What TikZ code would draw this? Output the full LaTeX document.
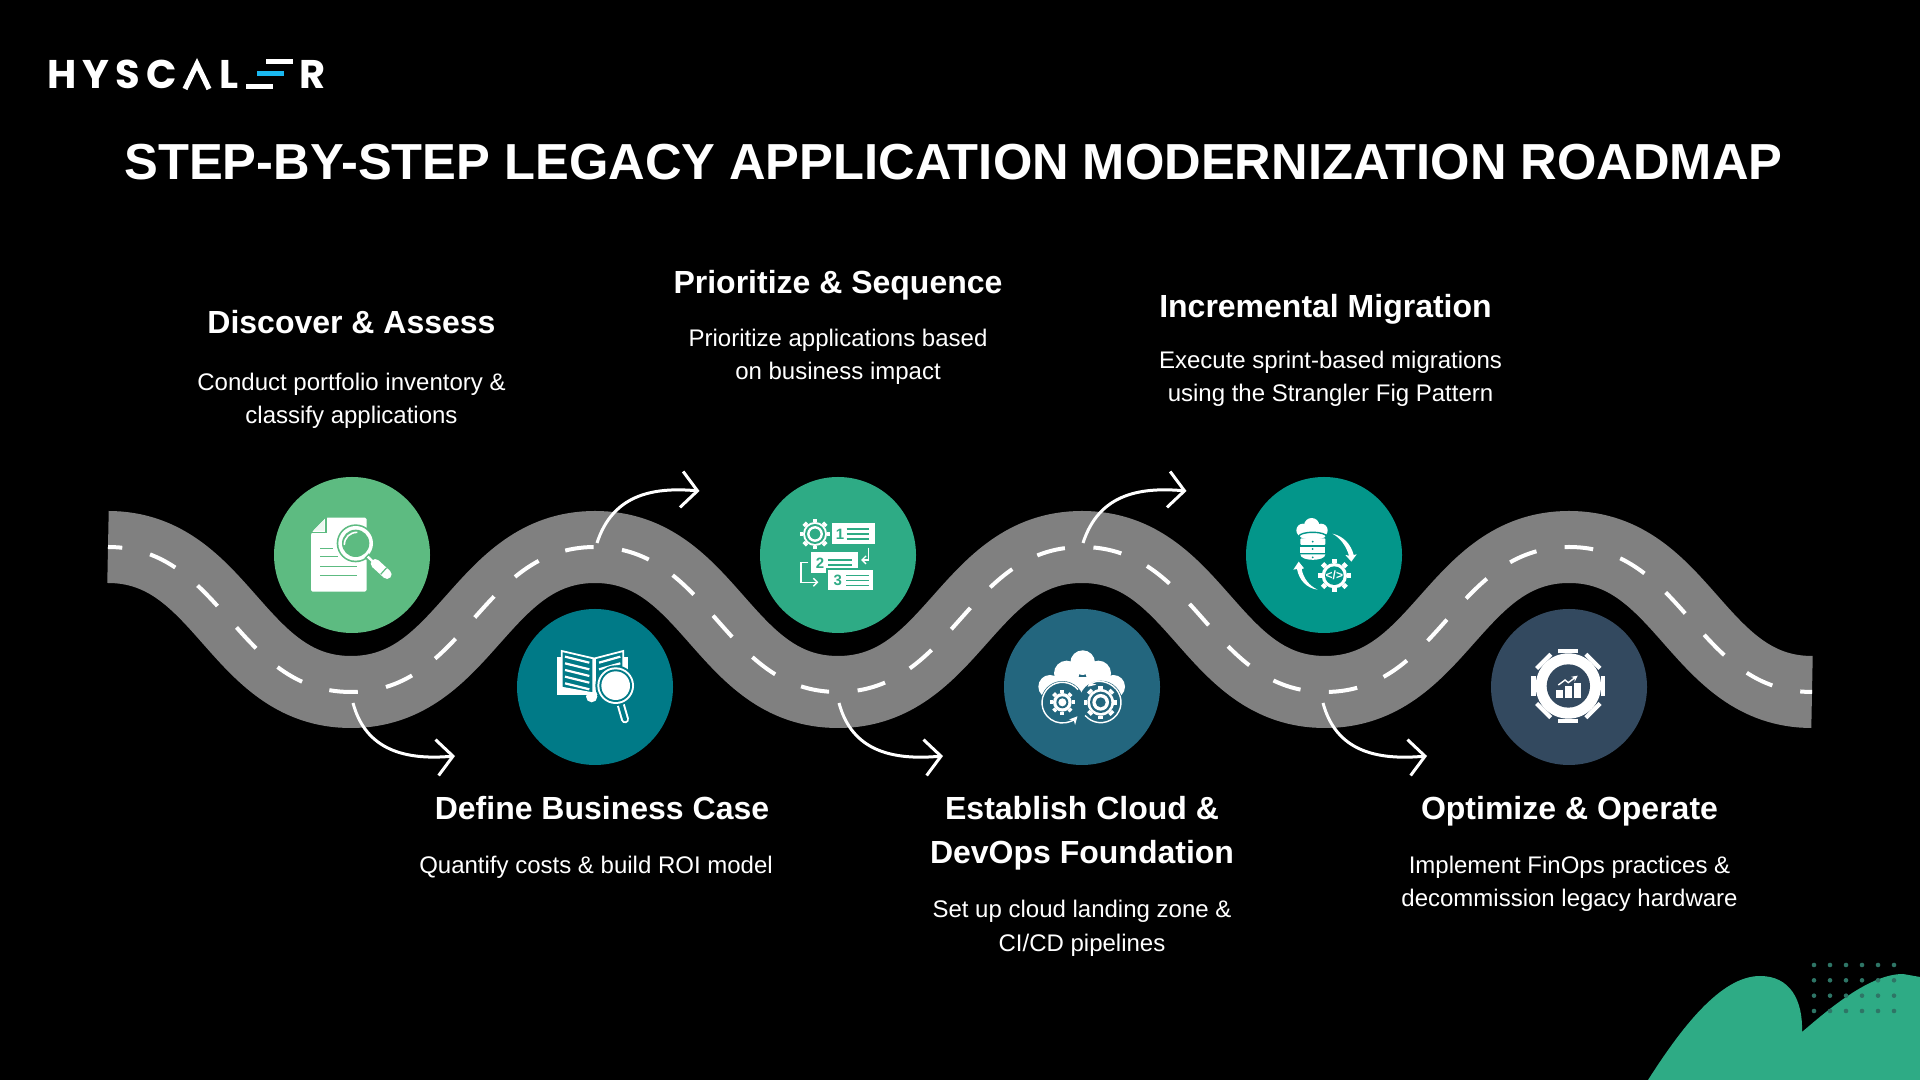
\documentclass[tikz,border=0pt]{standalone}
\usepackage{fontspec}
\setmainfont{Liberation Sans}
\newfontfamily\logofont[LetterSpace=15]{Poppins}
\usetikzlibrary{arrows.meta,positioning}
\definecolor{discgreen}{HTML}{5DBB81}
\definecolor{discteal}{HTML}{007A87}
\definecolor{discmint}{HTML}{2EAB85}
\definecolor{discblue}{HTML}{23667E}
\definecolor{discsea}{HTML}{03968A}
\definecolor{discnavy}{HTML}{33495F}
\definecolor{roadgrey}{HTML}{808080}
\definecolor{dotgreen}{HTML}{2E7566}
\definecolor{logoblue}{HTML}{1AB8F0}
\tikzset{heading/.style={font=\bfseries\fontsize{16}{22}\selectfont,text=white,align=center,inner sep=0pt},
		detail/.style={font=\fontsize{12}{16.5}\selectfont,text=white,align=center,inner sep=0pt},
		disc/.style={circle,minimum size=78pt,inner sep=0pt,fill=#1},
		road/.style={draw=roadgrey,line width=36pt},
		lane/.style={draw=white,line width=2pt,dash pattern=on 14.3pt off 14.3pt,dash phase=7.15pt},
		turn/.style={-{Straight Barb[length=8pt,width=18pt,line width=1.5pt]},draw=white,line width=1.5pt},
		iconframe/.style 2 args={shift={(#1,#2)},x=0.16667pt,y=-0.16667pt,color=white},
		digit/.style={font=\bfseries\fontsize{7.5}{8}\selectfont,inner sep=0pt}}
% gear: x, y, outer radius, body radius, teeth, tooth width
\newcommand{\cogwheel}[6]{%
	\fill (#1,#2) circle[radius=#4];
	\foreach \k in {1,...,#5} \draw[line width=#6] ({#1+#4*cos(360*\k/#5)},{#2+#4*sin(360*\k/#5)}) -- ({#1+#3*cos(360*\k/#5)},{#2+#3*sin(360*\k/#5)});
}
\begin{document}
\begin{tikzpicture}[x=0.5pt,y=0.5pt,node distance=17pt]
	\useasboundingbox (0,0) rectangle (1920,1080);
	\fill[black] (0,0) rectangle (1920,1080);

	% logo
	\node[anchor=base west,inner sep=0pt,text=white,font=\logofont\bfseries\fontsize{20}{20}\selectfont] (logo-start) at (47,991) {HYSC};
	\draw[white,line width=2.6pt,line join=miter] (185,991) -- (197,1016) -- (209,991);
	\node[anchor=base west,inner sep=0pt,text=white,font=\logofont\bfseries\fontsize{20}{20}\selectfont] (logo-mid) at (219,991) {L};
	\fill[white] (246,990.5) rectangle (273,995.5);
	\fill[logoblue] (257,1003.5) rectangle (284,1008.5);
	\fill[white] (266,1015.5) rectangle (293,1020.5);
	\node[anchor=base west,inner sep=0pt,text=white,font=\logofont\bfseries\fontsize{20}{20}\selectfont] (logo-end) at (299,991) {R};

	\node[font=\bfseries\fontsize{25.32}{30}\selectfont,text=white,inner sep=0pt] (title) at (953.5,918) {STEP-BY-STEP LEGACY APPLICATION MODERNIZATION ROADMAP};

	% corner shape
	\fill[discmint] (1648,0) .. controls (1680,50) and (1720,104) .. (1760,104) .. controls (1790,104) and (1803,80) .. (1802,48) .. controls (1830,72) and (1870,106) .. (1903,106) -- (1920,103) -- (1920,0) -- cycle;
	\foreach \dotx in {1814,1830,1846,1862,1878,1894}
		\foreach \doty in {115,99.7,84.3,69}
			\fill[dotgreen] (\dotx,\doty) circle[radius=2.3];

	% road
	\draw[road,postaction={lane}] (108,533) .. controls +(115,0) and +(-115,0) .. (351,388) .. controls +(115,0) and +(-115,0) .. (595,533) .. controls +(115,0) and +(-115,0) .. (838,388) .. controls +(115,0) and +(-115,0) .. (1082,533) .. controls +(115,0) and +(-115,0) .. (1325,388) .. controls +(115,0) and +(-115,0) .. (1569,533) .. controls +(115,0) and +(-115,0) .. (1812,388);

	\node[disc=discgreen] (discover) at (352,525) {};
	\node[disc=discteal] (define) at (595,393) {};
	\node[disc=discmint] (prioritize) at (838,525) {};
	\node[disc=discblue] (establish) at (1082,393) {};
	\node[disc=discsea] (incremental) at (1324,525) {};
	\node[disc=discnavy] (optimize) at (1569,393) {};

	% turns
	\coordinate (turn-a) at (353,377);
	\coordinate (turn-a-end) at (455,324);
	\coordinate (turn-b) at (597,537);
	\coordinate (turn-b-end) at (699.5,589);
	\coordinate (turn-c) at (839,377);
	\coordinate (turn-c-end) at (943,324);
	\coordinate (turn-d) at (1083,537);
	\coordinate (turn-d-end) at (1186.5,589);
	\coordinate (turn-e) at (1323,377);
	\coordinate (turn-e-end) at (1427,324);
	\draw[turn] (turn-a) to[out=-75,in=185,looseness=1.1] (turn-a-end);
	\draw[turn] (turn-b) to[out=72,in=175,looseness=1.1] (turn-b-end);
	\draw[turn] (turn-c) to[out=-75,in=185,looseness=1.1] (turn-c-end);
	\draw[turn] (turn-d) to[out=72,in=175,looseness=1.1] (turn-d-end);
	\draw[turn] (turn-e) to[out=-75,in=185,looseness=1.1] (turn-e-end);

	% texts
	\node[heading] (discover-head) at (351.5,758) {Discover \& Assess};
	\node[detail] (discover-text) [below=19.4pt of discover-head] {Conduct portfolio inventory \&\\classify applications};
	\node[heading] (prioritize-head) at (838,794.3) {Prioritize \& Sequence};
	\node[detail] (prioritize-text) [below=13.9pt of prioritize-head] {Prioritize applications based\\on business impact};
	\node[heading] (incremental-head) at (1325.5,770.3) {Incremental Migration};
	\node[detail] (incremental-text) [below=12.7pt of incremental-head,xshift=2.5pt] {Execute sprint-based migrations\\using the Strangler Fig Pattern};
	\node[heading] (define-head) at (602,272) {Define Business Case};
	\node[detail] (define-text) [below=17.6pt of define-head,xshift=-3pt] {Quantify costs \& build ROI model};
	\node[heading] (establish-head) at (1082,246.3) {Establish Cloud \&\\DevOps Foundation};
	\node[detail] (establish-text) [below=14.6pt of establish-head] {Set up cloud landing zone \&\\CI/CD pipelines};
	\node[heading] (optimize-head) at (1569.5,268.3) {Optimize \& Operate};
	\node[detail] (optimize-text) [below=14.6pt of optimize-head] {Implement FinOps practices \&\\decommission legacy hardware};

	% document with lens
	\begin{scope}[iconframe={300}{575}]
		\fill[rounded corners=0.8pt] (33,85) -- (78,38) -- (200,38) -- (200,260) -- (33,260) -- cycle;
		\draw[discgreen,line width=0.6pt] (33,82) -- (78,82) -- (78,38);
		\fill[white!88!discgreen] (40,77) -- (73,44) -- (73,77) -- cycle;
		\foreach \linex/\liney in {100/130,113/155,170/184,170/212}
			\draw[discgreen,line width=0.7pt] (60,\liney) -- (\linex,\liney);
		\fill[discgreen] (167,115) circle[radius=57];
		\fill (167,115) circle[radius=52];
		\fill[discgreen] (167,115) circle[radius=41];
		\draw[line width=0.8pt] (133,120) .. controls (133,97) and (150,82) .. (172,82);
		\draw[discgreen,line width=3pt] (200,152) -- (215,166);
		\draw[line width=1.2pt] (203,155) -- (218,169);
		\draw[line width=4.6pt,line cap=round] (226,176) -- (261,208);
		\draw[discgreen,line width=0.6pt] (242,208) -- (260,188);
	\end{scope}

	% book with lens
	\begin{scope}[iconframe={545}{440}]
		\fill (37,50) rectangle (52,165);
		\fill (233,50) rectangle (250,165);
		\fill (37,143) rectangle (250,165);
		\fill (140,170) circle[radius=17];
		\draw[fill=discteal,line width=0.9pt] (50,33) -- (145,55) -- (145,160) -- (50,143) -- cycle;
		\draw[fill=discteal,line width=0.9pt] (150,55) -- (235,33) -- (235,140) -- (150,160) -- cycle;
		\foreach \rowy in {0,20,40,60,80} {
			\draw[line width=1.1pt] (60,50+\rowy) -- (133,68+\rowy);
			\draw[line width=1.1pt] (162,68+\rowy) -- (226,50+\rowy);
		}
		\draw[line width=4pt,line cap=round] (226,190) -- (240,238);
		\draw[discteal,line width=2pt,line cap=round] (226,190) -- (240,238);
		\fill[discteal] (212,137) circle[radius=61];
		\fill (212,137) circle[radius=55];
		\fill[discteal] (212,137) circle[radius=49];
		\fill (212,137) circle[radius=43];
	\end{scope}

	% numbered list with gear
	\begin{scope}[iconframe={790}{575}]
		\fill (125,55) rectangle (255,118);
		\foreach \rowy in {72,87,102} \draw[discmint,line width=0.7pt] (170,\rowy) -- (238,\rowy);
		\node[digit,text=discmint] (num-one) at (150,87) {1};
		\cogwheel{75}{87}{46}{36}{8}{2.4pt}
		\fill[discmint] (75,87) circle[radius=30];
		\draw[line width=1.2pt] (75,87) circle[radius=20];
		\fill (62,142) rectangle (205,205);
		\foreach \rowy in {165,180} \draw[discmint,line width=0.7pt] (115,\rowy) -- (185,\rowy);
		\node[digit,text=discmint] (num-two) at (90,175) {2};
		\draw[fill=white,draw=discmint,line width=1pt] (110,193) rectangle (253,259);
		\foreach \rowy in {212,227,242} \draw[discmint,line width=0.7pt] (168,\rowy) -- (236,\rowy);
		\node[digit,text=discmint] (num-three) at (143,226) {3};
		\draw[line width=0.7pt,-{Straight Barb[length=2pt,width=4pt]}] (235,128) -- (235,165) -- (213,165);
		\draw[line width=0.7pt,-{Straight Barb[length=2pt,width=4pt]}] (55,172) -- (33,172) -- (33,232) -- (85,232);
	\end{scope}

	% cloud with gears
	\begin{scope}[iconframe={1030}{440}]
		\fill (158,68) circle[radius=37];
		\fill (110,100) circle[radius=38];
		\fill (205,100) circle[radius=38];
		\fill (60,140) circle[radius=35];
		\fill (250,140) circle[radius=35];
		\fill (60,110) rectangle (250,175);
		\fill[discblue] (97,188) circle[radius=65];
		\fill[discblue] (212,187) circle[radius=65];
		\draw[line width=0.7pt,-{Stealth[length=4pt,width=4pt]}] ({97+61*cos(-40)},{188+61*sin(-40)}) arc[start angle=-40,end angle=-318,radius=61];
		\draw[line width=0.7pt,-{Stealth[length=4pt,width=4pt]}] ({212+61*cos(140)},{187+61*sin(140)}) arc[start angle=140,end angle=-130,radius=61];
		\cogwheel{97}{187}{37}{28}{8}{2pt}
		\fill[discblue] (97,187) circle[radius=18];
		\fill (97,187) circle[radius=12];
		\cogwheel{212}{187}{50}{40}{8}{2.6pt}
		\fill[discblue] (212,187) circle[radius=32];
		\fill (212,187) circle[radius=25];
		\fill[discblue] (212,187) circle[radius=15];
	\end{scope}

	% database with code gear
	\begin{scope}[iconframe={1275}{575}]
		\fill (110,62) circle[radius=23];
		\fill (84,76) circle[radius=20];
		\fill (138,76) circle[radius=20];
		\draw[fill=white,draw=discsea,line width=0.7pt] (113,94) ellipse[x radius=41,y radius=12];
		\fill[rounded corners=0.5pt] (76,100) rectangle (151,120);
		\fill (76,125) rectangle (151,143);
		\fill (76,148) -- (151,148) .. controls (151,170) and (76,170) .. (76,148);
		\fill[discsea] (113,132) circle[radius=3];
		\fill[discsea] (113,110) circle[radius=3];
		\fill[discsea] (113,157) circle[radius=3];
		\fill (172,86) .. controls (205,93) and (228,118) .. (236,150) -- (245,148) -- (229,170) -- (211,150) -- (222,152) .. controls (214,125) and (198,100) .. (172,86);
		\fill (128,254) .. controls (95,250) and (72,225) .. (66,192) -- (55,194) -- (71,170) -- (87,190) -- (80,192) .. controls (85,220) and (102,242) .. (128,254);
		\cogwheel{178}{212}{50}{38}{8}{2.4pt}
		\fill[discsea] (178,212) circle[radius=28];
		\node[font=\bfseries\fontsize{6}{6}\selectfont,inner sep=0pt] (code-tag) at (178,212) {</>};
	\end{scope}

	% gear with chart
	\begin{scope}[iconframe={1515}{440}]
		\cogwheel{160}{138}{111}{98}{8}{10pt}
		\fill[discnavy] (160,138) circle[radius=65];
		\fill (122,150) rectangle (143,175);
		\fill (150,138) rectangle (170,175);
		\fill (177,130) rectangle (198,175);
		\draw[line width=0.7pt,-{Stealth[length=3pt,width=3pt]}] (130,135) -- (150,120) -- (160,128) -- (188,107);
	\end{scope}
\end{tikzpicture}
\end{document}
